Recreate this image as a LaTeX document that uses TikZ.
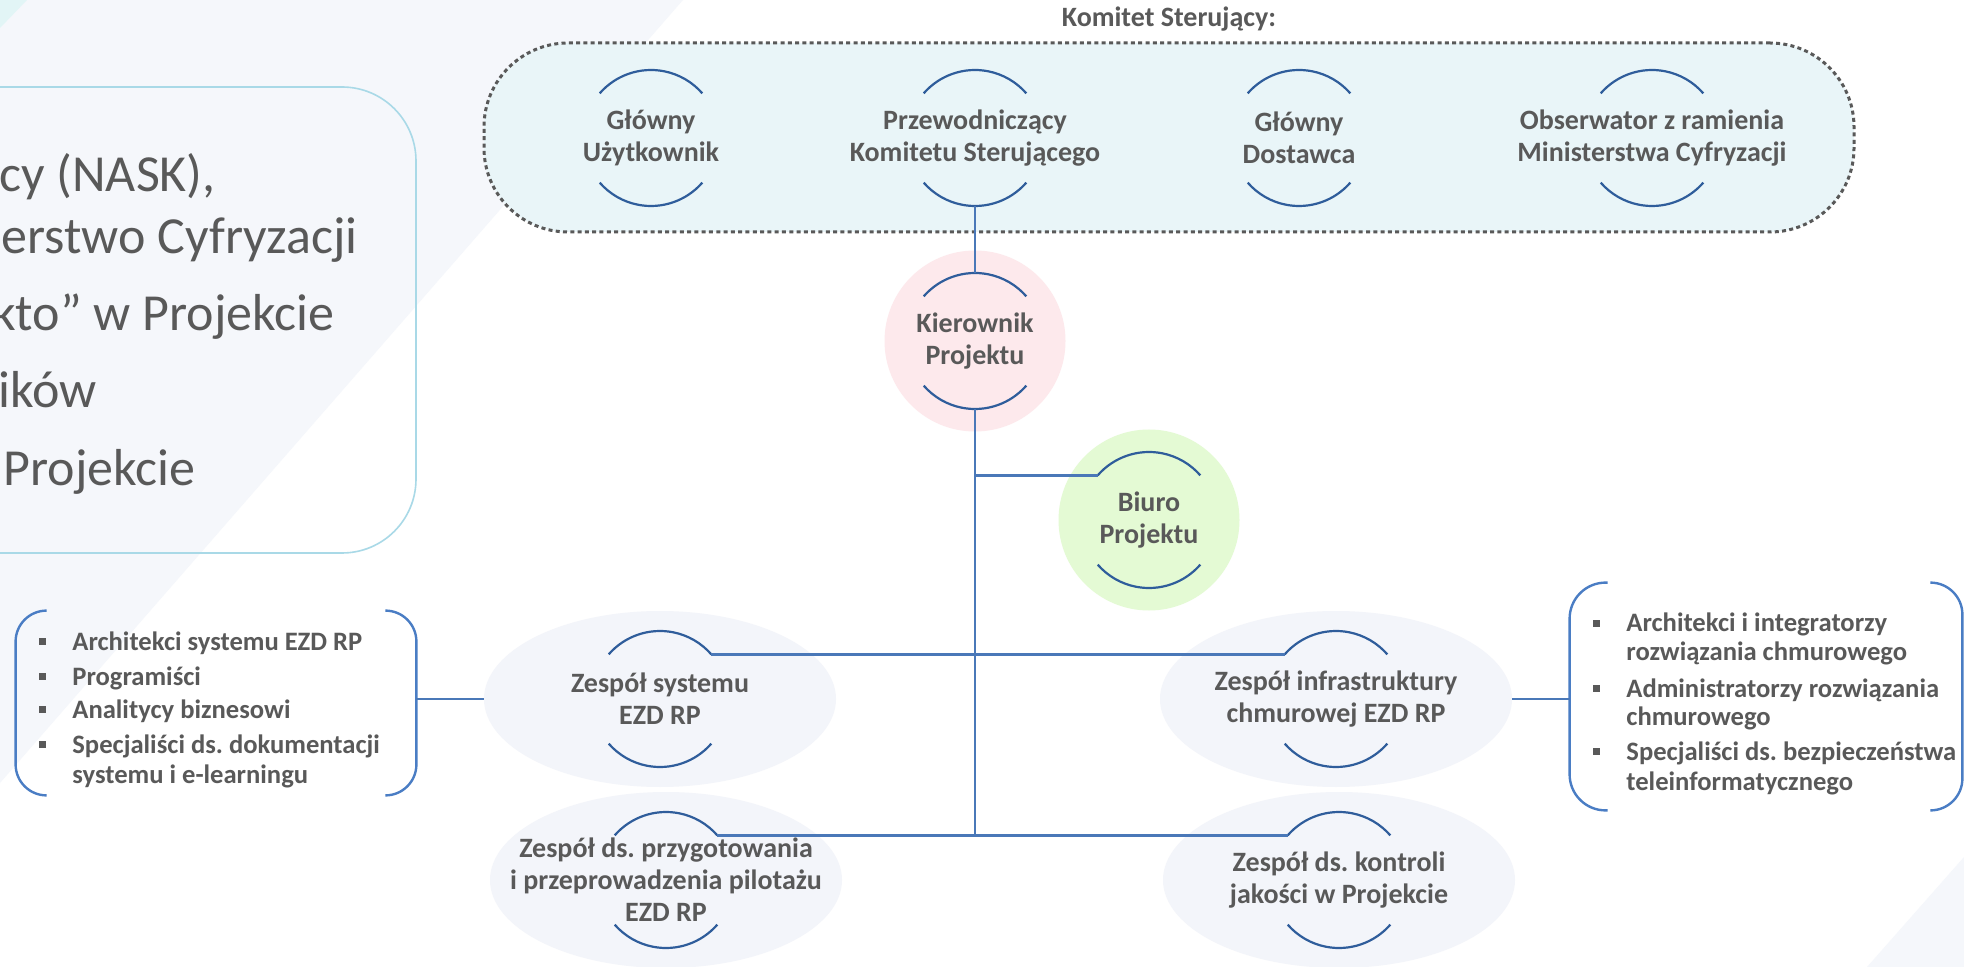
\documentclass[tikz,border=0pt]{standalone}
\usepackage{fontspec}
\setmainfont{Carlito}
\frenchspacing
\usetikzlibrary{shapes.geometric}
\definecolor{txt}{HTML}{595959}
\definecolor{arcblue}{HTML}{2F5D9B}
\definecolor{lineblue}{HTML}{4A78B8}
\definecolor{brkblue}{HTML}{4A7DC4}
\definecolor{ksfill}{HTML}{E9F5F8}
\definecolor{pinkfill}{HTML}{FDE9EC}
\definecolor{greenfill}{HTML}{E4FAD4}
\definecolor{ellfill}{HTML}{F3F5FA}
\definecolor{bggrey}{HTML}{F5F7FB}
\definecolor{boxline}{HTML}{A9D9E7}
\definecolor{cyancorner}{HTML}{E2F5F6}
\newcommand\twoarcs[1]{%
  \draw[arcst] ([shift={(221:68)}]#1.center) coordinate (#1-tl) arc[start angle=221,end angle=319,radius=68] coordinate (#1-tr);
  \draw[arcst] ([shift={(41:68)}]#1.center) coordinate (#1-br) arc[start angle=41,end angle=139,radius=68] coordinate (#1-bl);
  \coordinate (#1-t) at ([shift={(270:68)}]#1.center);
  \coordinate (#1-b) at ([shift={(90:68)}]#1.center);
}
\begin{document}
\begin{tikzpicture}[x=0.5pt,y=-0.5pt,
  arcst/.style={draw=arcblue,line width=1.1pt},
  conn/.style={draw=lineblue,line width=1.2pt},
  brk/.style={draw=brkblue,line width=1.2pt},
  ntext/.style={font=\bfseries\fontsize{14}{16}\selectfont,text=txt,align=center,inner sep=0pt},
  lst/.style={font=\bfseries\fontsize{13.3}{15}\selectfont,text=txt,inner sep=0pt},
  big/.style={font=\fontsize{26}{30}\selectfont,text=txt,inner sep=0pt},
  bul/.style={rectangle,fill=txt,minimum size=3.5pt,inner sep=0pt},
  circ/.style={circle,minimum size=90.5pt,inner sep=0pt},
  ell/.style={ellipse,fill=ellfill,minimum width=176pt,minimum height=88pt,inner sep=0pt},
]
\useasboundingbox (0,0) rectangle (1964,967);
\clip (0,0) rectangle (1964,967);
% background
\fill[white] (0,0) rectangle (1964,967);
\fill[bggrey] (0,0) -- (683,0) -- (0,783) -- cycle;
\fill[cyancorner] (0,0) -- (27,0) -- (0,28) -- cycle;
\fill[bggrey] (1964,857) -- (1867,967) -- (1964,967) -- cycle;

% left text box
\draw[boxline,line width=0.8pt,rounded corners=37pt] (-80,87) rectangle (416,553);
\node[big,anchor=base east] (t1) at (216,192) {cy (NASK),};
\node[big,anchor=base east] (t2) at (358,254) {erstwo Cyfryzacji};
\node[big,anchor=base east] (t3) at (335,331) {kto” w Projekcie};
\node[big,anchor=base east] (t4) at (97,408) {ików};
\node[big,anchor=base east] (t5) at (196,486) {Projekcie};

% Komitet Sterujacy
\node[ntext,anchor=base] (kslab) at (1169,27) {Komitet Sterujący:};
\node[draw=txt,dash pattern=on 2pt off 1.65pt,line width=1.5pt,fill=ksfill,rounded corners=42pt,
      minimum width=685pt,minimum height=94.5pt] (ks) at (1169,137.5) {};
\node[ntext] (gu) at (651,138) {Główny\\Użytkownik};
\node[ntext] (prz) at (975,138) {Przewodniczący\\Komitetu Sterującego};
\node[ntext] (gd) at (1299,138) {Główny\\Dostawca};
\node[ntext] (obs) at (1652,138) {Obserwator z ramienia\\Ministerstwa Cyfryzacji};
\twoarcs{gu}\twoarcs{prz}\twoarcs{gd}\twoarcs{obs}

% Kierownik & Biuro
\node[circ,fill=pinkfill] (kier) at (975,341) {};
\node[ntext] (kiertxt) at (kier) {Kierownik\\Projektu};
\node[circ,fill=greenfill] (biuro) at (1149,520) {};
\node[ntext] (biurotxt) at (biuro) {Biuro\\Projektu};
\twoarcs{kier}\twoarcs{biuro}

% teams
\node[ell] (zs) at (660,699) {};
\node[ntext] (zstxt) at (zs) {Zespół systemu\\EZD RP};
\node[ell] (zi) at (1336,699) {};
\node[ntext] (zitxt) at (zi) {Zespół infrastruktury\\chmurowej EZD RP};
\node[ell] (zp) at (666,880) {};
\node[ntext] (zptxt) at (zp) {Zespół ds. przygotowania\\i przeprowadzenia pilotażu\\EZD RP};
\node[ell] (zk) at (1339,880) {};
\node[ntext] (zktxt) at (zk) {Zespół ds. kontroli\\jakości w Projekcie};
\twoarcs{zs}\twoarcs{zi}\twoarcs{zp}\twoarcs{zk}

% connectors
\draw[conn] (prz-b) -- (kier-t);
\draw[conn] (kier-b) -- (kier-b |- zp-tr);
\draw[conn] (kier-b |- biuro-tl) -- (biuro-tl);
\draw[conn] (zs-tr) -- (zi-tl);
\draw[conn] (zp-tr) -- (zk-tl);

% left list
\node[minimum width=200pt,minimum height=92pt,inner sep=0pt] (listL) at (216,703) {};
\draw[brk,rounded corners=15.5pt] ([xshift=15.5pt]listL.north west) -- (listL.north west) -- (listL.south west) -- ([xshift=15.5pt]listL.south west);
\draw[brk,rounded corners=15.5pt] ([xshift=-15.5pt]listL.north east) -- (listL.north east) -- (listL.south east) -- ([xshift=-15.5pt]listL.south east);
\draw[conn] (zs.west) -- (zs.west -| listL.east);
\node[bul] (lb1) at (42,641) {};
\node[bul] (lb2) at (42,676) {};
\node[bul] (lb3) at (42,709) {};
\node[bul] (lb4) at (42,744) {};
\node[lst,anchor=base west] (l1) at (72,650) {Architekci systemu EZD RP};
\node[lst,anchor=base west] (l2) at (72,685) {Programiści};
\node[lst,anchor=base west] (l3) at (72,718) {Analitycy biznesowi};
\node[lst,anchor=base west] (l4) at (72,753) {Specjaliści ds. dokumentacji};
\node[lst,anchor=base west] (l5) at (72,783) {systemu i e-learningu};

% right list
\node[minimum width=196pt,minimum height=113.5pt,inner sep=0pt] (listR) at (1766,696.5) {};
\draw[brk,rounded corners=18pt] ([xshift=19pt]listR.north west) -- (listR.north west) -- (listR.south west) -- ([xshift=19pt]listR.south west);
\draw[brk,rounded corners=16pt] ([xshift=-16pt]listR.north east) -- (listR.north east) -- (listR.south east) -- ([xshift=-16pt]listR.south east);
\draw[conn] (zi.east) -- (zi.east -| listR.west);
\node[bul] (rb1) at (1596,623) {};
\node[bul] (rb2) at (1596,688) {};
\node[bul] (rb3) at (1596,751) {};
\node[lst,anchor=base west] (r1) at (1626,632) {Architekci i integratorzy};
\node[lst,anchor=base west] (r2) at (1626,660) {rozwiązania chmurowego};
\node[lst,anchor=base west] (r3) at (1626,697) {Administratorzy rozwiązania};
\node[lst,anchor=base west] (r4) at (1626,725) {chmurowego};
\node[lst,anchor=base west] (r5) at (1626,760) {Specjaliści ds. bezpieczeństwa};
\node[lst,anchor=base west] (r6) at (1626,790) {teleinformatycznego};
\end{tikzpicture}
\end{document}
